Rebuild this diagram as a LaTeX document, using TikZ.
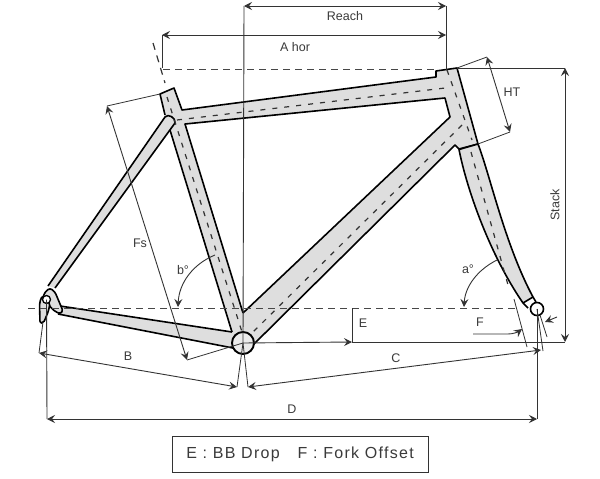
\documentclass[tikz,border=0pt]{standalone}
\usepackage{fontspec}
\setmainfont{Liberation Sans}
\newfontfamily\legendfont[LetterSpace=8]{Liberation Sans}
\usetikzlibrary{arrows.meta}
\definecolor{tube}{HTML}{DEDEDE}
\definecolor{dimc}{HTML}{333333}
\definecolor{labc}{HTML}{3A3A3A}
\tikzset{
 tubeline/.style={draw=black,line width=1.6pt,fill=tube,line join=round},
 outline/.style={draw=black,line width=1.6pt,line join=round},
 centre/.style={draw=dimc,line width=1.2pt,dash pattern=on 5pt off 7pt},
 refdash/.style={draw=dimc!90,line width=.9pt,dash pattern=on 7pt off 5pt},
 dimline/.style={draw=dimc,line width=.9pt},
 thinline/.style={draw=dimc,line width=.8pt},
 arr/.style={dimline,-{Stealth[length=8pt,width=8pt,inset=3pt]}},
 arrs/.style={dimline,{Stealth[length=8pt,width=8pt,inset=3pt]}-{Stealth[length=8pt,width=8pt,inset=3pt]}},
 lab/.style={text=labc,font=\fontsize{12.5}{14}\selectfont,inner sep=0pt},
}
\begin{document}
\begin{tikzpicture}[x=1pt,y=-1pt]
\useasboundingbox[fill=white] (0,0) rectangle (600,479);
% reference points
\coordinate (bb) at (243,343);
\coordinate (rear) at (46.5,299.5);
\coordinate (front) at (537,309);
\coordinate (stTop) at (160,94);
\coordinate (htTop) at (457,68);
\coordinate (htBot) at (478,144);
% main outline
\path[fill=tube] (stTop) -- (174,88) -- (182,110) -- (436,77) -- (436,71) -- (htTop) -- (htBot) -- (459,149) -- (455,145) -- (253,345) -- (243,343) -- (233,348) -- (58,314) -- (60,306) -- (232,332) -- (170,130) -- (165,115) -- cycle;
\fill[white] (243,313) -- (450,117) -- (445,98) -- (185,124) -- cycle;
\draw[outline] (165,115) -- (stTop) -- (174,88) -- (182,110) -- (436,77) -- (436,71) -- (htTop) -- (htBot) -- (459,149) -- (455,145) -- (253,345);
\draw[outline] (232,332) -- (170,130);
\draw[outline] (243,313) -- (185,124) -- (445,98) -- (450,117) -- (243,313);
\draw[outline] (60,306) -- (232,332);
\draw[outline] (58,314) -- (233,348);
% seat stay
\draw[tubeline] (48,286) -- (165,117) .. controls (168,113) and (176,118) .. (175,123) -- (55,288);
% fork
\draw[tubeline] (459,149.5) .. controls (467,190) and (490,255) .. (523,303) -- (533,297) .. controls (505,245) and (490,175) .. (htBot) -- cycle;
\draw[outline] (523,303) -- (528,308);
\draw[outline] (533,297) -- (536,302);
% dropout
\draw[tubeline,rounded corners=2.5pt] (42,300) -- (45,292) -- (50,288) -- (55,292) -- (63,311) -- (60,314) -- (53,310) -- (49,305) -- cycle;
\draw[tubeline,rounded corners=2pt] (42,296) -- (39.5,303) -- (40,323) -- (43.5,323) -- (48.5,311) -- (50,303) -- cycle;
% bb and axles
\draw[line width=1.9pt,fill=tube!60] (bb) circle (11);
\draw[line width=1.6pt,fill=white] (front) circle (6.5);
\draw[line width=1.3pt,fill=white] (rear) circle (4);
% centre lines
\draw[centre,dash pattern=on 7pt off 6pt] (153,43) -- (165,83);
\draw[centre] (167,97) -- (243,335);
\draw[centre] (177,120) -- (445,88);
\draw[centre] (447,70) -- (472,140);
\draw[centre] (471,152) -- (508,285);
\draw[centre] (462,125) -- (250,335);
\draw[refdash] (163,69.5) -- (436,69.5);
\draw[refdash] (28,308) -- (515,308);
% dimension lines: Reach and A hor
\coordinate (reachL) at (244,6);
\coordinate (reachR) at (446,6);
\coordinate (ahorL) at (162,35);
\coordinate (ahorR) at (446,35);
\draw[dimline] (reachL) -- (bb);
\draw[dimline] (reachR) -- (446,70);
\draw[dimline] (ahorL) -- (162,68);
\draw[arrs] (reachL) -- (reachR);
\draw[arrs] (ahorL) -- (ahorR);
% HT
\coordinate (htA) at (487,57);
\coordinate (htB) at (510,132);
\draw[thinline] (htTop) -- (htA);
\draw[thinline] (htBot) -- (htB);
\draw[arrs] (htA) -- (htB);
% Stack
\coordinate (stackT) at (565,68);
\coordinate (stackB) at (565,342);
\draw[thinline] (htTop) -- (stackT);
\draw[thinline] (352,342) -- (stackB);
\draw[arrs] (stackT) -- (stackB);
% Fs
\coordinate (fsA) at (107,106);
\coordinate (fsB) at (187,360);
\draw[thinline] (stTop) -- (fsA);
\draw[thinline] (bb) -- (fsB);
\draw[arrs] (fsA) -- (fsB);
% E
\coordinate (eEnd) at (352,342);
\draw[thinline] (352,308) -- (eEnd);
\draw[arr] (bb) -- (eEnd);
% angles
\draw[arr] (215,255) .. controls (193,264) and (179,283) .. (178,307);
\draw[arr] (497,260) .. controls (477,270) and (465,287) .. (464,307);
% F
\coordinate (fA) at (514,299);
\coordinate (fB) at (527,347);
\draw[thinline] (fA) -- (fB);
\draw[thinline] (540,315) -- (547,337);
\coordinate (fS) at (473,334);
\draw[arr] (fS) -- (508,334) .. controls (513,334) and (518,332) .. (522,329);
\coordinate (fR) at (557,317);
\coordinate (fE) at (545,322);
\draw[arr] (fR) -- (fE);
% B C D
\coordinate (bA) at (39,353);
\coordinate (bB) at (237,387);
\coordinate (cA) at (248,387);
\coordinate (cB) at (541,350);
\draw[thinline] (43,322) -- (bA);
\draw[thinline] (bb) -- (bB);
\draw[thinline] (bb) -- (cA);
\draw[thinline] (front) -- (543,351);
\draw[arrs] (bA) -- (bB);
\draw[arrs] (cA) -- (cB);
\coordinate (dA) at (47,419);
\coordinate (dB) at (537,419);
\draw[dimline] (rear) -- (dA);
\draw[dimline] (front) -- (dB);
\draw[arrs] (dA) -- (dB);
% labels
\node[lab] (lreach) at (345,16) {Reach};
\node[lab] (lahor) at (295,47) {A hor};
\node[lab] (lht) at (512,92) {HT};
\node[lab,rotate=90] (lstack) at (555,205) {Stack};
\node[lab] (lfs) at (140,243) {Fs};
\node[lab] (lb0) at (183,270) {b°};
\node[lab] (la0) at (468,269) {a°};
\node[lab] (le) at (363,323) {E};
\node[lab] (lf) at (480,322) {F};
\node[lab] (lbb) at (128,356) {B};
\node[lab] (lc) at (396,358) {C};
\node[lab] (ld) at (292,409) {D};
\node[draw=dimc,line width=.9pt,minimum width=256pt,minimum height=36pt,inner sep=0pt,text=labc,font=\fontsize{16}{18}\legendfont] (legend) at (300,454) {E : BB Drop\hspace{18pt}F : Fork Offset};
\end{tikzpicture}
\end{document}
